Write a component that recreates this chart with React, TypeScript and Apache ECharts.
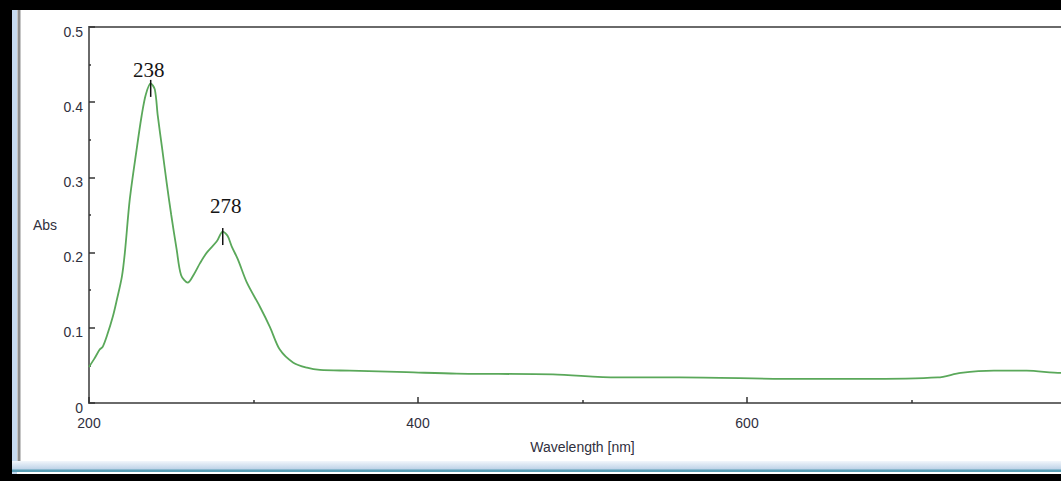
import React, { useEffect, useRef } from 'react';
import * as echarts from 'echarts';

const wavelengths = [200, 203, 206.5, 208.4, 211, 214.5, 216.9, 220, 221.8, 224.8, 229, 232, 234.5, 237.5, 240, 241.8, 244.5, 247.2, 250, 253.3, 256, 260, 264, 267.5, 271.6, 277.7, 281.3, 284.3, 286.8, 290.5, 296, 303.9, 310, 316, 324, 332.5, 340.4, 358.6, 393, 423.5, 482, 521, 559, 632, 669, 716, 730, 750, 770, 791, 800];
const absorbance = [0.048, 0.058, 0.071, 0.075, 0.09, 0.115, 0.137, 0.168, 0.2, 0.271, 0.338, 0.382, 0.41, 0.425, 0.417, 0.382, 0.338, 0.293, 0.25, 0.204, 0.17, 0.16, 0.172, 0.186, 0.2, 0.215, 0.228, 0.222, 0.208, 0.191, 0.16, 0.128, 0.101, 0.071, 0.054, 0.047, 0.044, 0.043, 0.041, 0.039, 0.038, 0.034, 0.034, 0.032, 0.032, 0.034, 0.04, 0.043, 0.043, 0.04, 0.04];

const peakLabels = ['238', '278'];
const peakWavelengths = [237.5, 281.3];
const peakAbsorbance = [0.425, 0.228];
const peakLabelOffsets = [[-2, 1], [3, -12]];

const xTickMin = 200;
const xTickMax = 800;
const xTickStep = 200;
const yTickMin = 0;
const yTickMax = 0.5;
const yTickStep = 0.1;

export default function App() {
  const ref = useRef<HTMLDivElement>(null);
  useEffect(() => {
    const chart = echarts.init(ref.current!, null, { renderer: 'svg' });
    const textStyle = { fontFamily: 'Liberation Sans, Arial, sans-serif', fontSize: 14, color: '#30303e' };
    const axisColor = '#6a6a6a';
    chart.setOption({
      animation: false,
      backgroundColor: '#ffffff',
      grid: { left: 89, top: 27, right: 19, bottom: 78, show: true, borderColor: axisColor, borderWidth: 2 },
      xAxis: {
        type: 'value', min: xTickMin, max: xTickMax, interval: xTickStep,
        axisLine: { lineStyle: { color: axisColor, width: 2 } },
        axisTick: { inside: true, length: 6, lineStyle: { color: '#333', width: 1.5 } },
        minorTick: { show: true, splitNumber: 2, length: 3, lineStyle: { color: '#333', width: 1.5 } },
        splitLine: { show: false },
        axisLabel: { ...textStyle, margin: 13, showMaxLabel: false },
        name: 'Wavelength [nm]', nameLocation: 'middle', nameGap: 37,
        nameTextStyle: { ...textStyle },
      },
      yAxis: {
        type: 'value', min: yTickMin, max: yTickMax, interval: yTickStep,
        axisLine: { lineStyle: { color: axisColor, width: 2 } },
        axisTick: { inside: true, length: 6, lineStyle: { color: '#333', width: 1.5 } },
        minorTick: { show: true, splitNumber: 2, length: 2, lineStyle: { color: '#333', width: 1.5 } },
        splitLine: { show: false },
        axisLabel: { ...textStyle, margin: 6, verticalAlign: 'top', lineHeight: 9 },
      },
      series: [{
        type: 'line',
        data: wavelengths.map((w, i) => [w, absorbance[i]]),
        showSymbol: false,
        smooth: 0.3,
        lineStyle: { color: '#5aa85a', width: 1.8 },
        markPoint: {
          symbol: 'rect',
          symbolSize: [1.5, 17],
          symbolOffset: [0, 5],
          itemStyle: { color: '#111' },
          label: { show: true, position: 'top', distance: 0, fontFamily: 'Liberation Serif, Times New Roman, serif', fontSize: 21, color: '#151515', formatter: (p: any) => p.name },
          data: peakLabels.map((l, i) => ({ name: l, coord: [peakWavelengths[i], peakAbsorbance[i]], label: { offset: peakLabelOffsets[i] } })),
        },
      }],
      graphic: [
        { type: 'text', left: 33, top: 218, style: { text: 'Abs', fill: '#30303e', font: '14px Liberation Sans, Arial, sans-serif' } },
        { type: 'rect', shape: { x: 12, y: 10, width: 5, height: 464 }, style: { fill: '#c6daf0' } },
        { type: 'rect', shape: { x: 17.5, y: 10, width: 3, height: 452 }, style: { fill: '#8e8e8e' } },
        { type: 'rect', shape: { x: 12, y: 461, width: 1100, height: 9 }, style: { fill: new echarts.graphic.LinearGradient(0, 0, 0, 1, [{ offset: 0, color: '#f2f6fb' }, { offset: 1, color: '#b9cfe6' }]) } },
        { type: 'rect', shape: { x: 12, y: 469.5, width: 1100, height: 2.5 }, style: { fill: '#5a9fb5' } },
        { type: 'rect', shape: { x: 0, y: 0, width: 1100, height: 10 }, style: { fill: '#000' } },
        { type: 'rect', shape: { x: 0, y: 0, width: 12, height: 481 }, style: { fill: '#000' } },
        { type: 'rect', shape: { x: 0, y: 474, width: 1100, height: 7 }, style: { fill: '#000' } },
      ],
    });
    return () => chart.dispose();
  }, []);
  return (
    <div style={{ position: 'fixed', left: 0, top: 0, width: 1061, height: 481, overflow: 'hidden', background: '#fff' }}>
      <div ref={ref} style={{ width: 1095, height: 481 }} />
    </div>
  );
}
